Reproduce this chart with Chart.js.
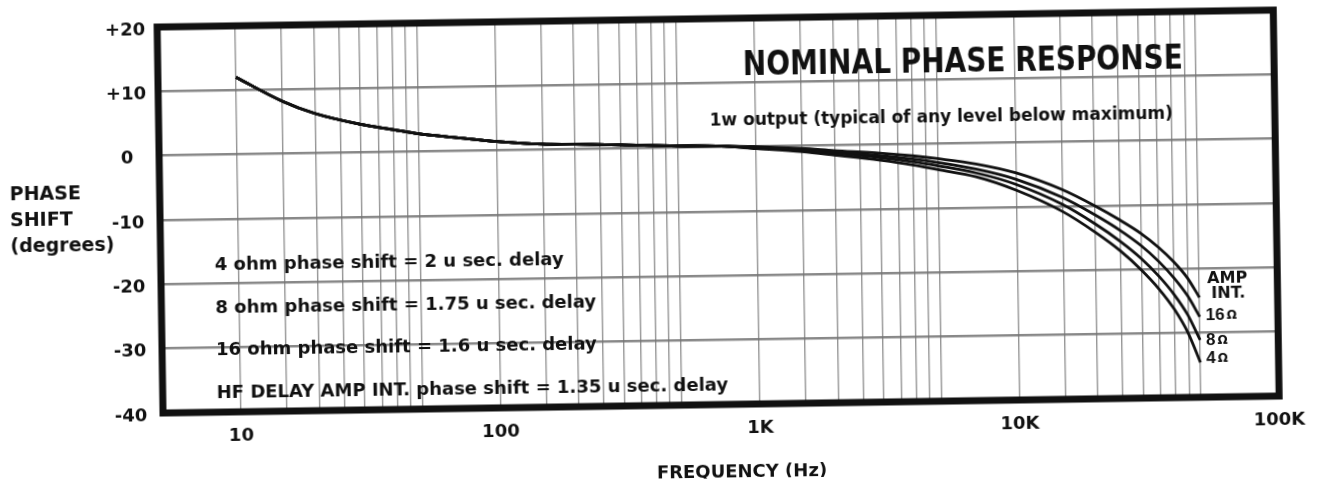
<!DOCTYPE html>
<html>
<head>
<meta charset="utf-8">
<script src="https://cdn.jsdelivr.net/npm/chart.js@4.4.1/dist/chart.umd.min.js"></script>
<style>
  html, body { margin: 0; padding: 0; background: #fff; overflow: hidden; }
  /* the scanned sheet is tilted a little, so the whole chart is too */
  #wrap { position: absolute; left: 0; top: 0; width: 1319px; height: 487px;
          transform: rotate(-0.87deg); transform-origin: 163px 413px; }
</style>
</head>
<body>
<div id="wrap"><canvas id="chartPhase" width="1319" height="487"></canvas></div>
<script>
const freqs = [10, 15, 20, 30, 40, 50, 70, 100, 150, 200, 300, 500, 700,
               1000, 1500, 2000, 3000, 4000, 5000, 7000, 10000, 15000, 20000,
               25000, 30000, 35000, 40000, 45000, 50000];

// Low end is the same for every load (10 Hz .. 700 Hz), degrees
const lowEnd = [12.0, 8.2, 6.2, 4.4, 3.5, 2.8, 2.1, 1.4, 0.9, 0.8, 0.6, 0.3, 0.2];

// High end (1 kHz .. 50 kHz), degrees
const ampIntHigh = [0.0, -0.4, -0.8, -1.3, -1.8, -2.3, -3.2, -4.7, -7.4, -10.0, -12.3, -14.4, -16.6, -18.9, -21.4, -24.5];
const ohm16High  = [-0.1, -0.6, -1.0, -1.7, -2.3, -2.9, -4.0, -5.7, -8.6, -11.4, -13.9, -16.3, -18.8, -21.4, -24.2, -27.5];
const ohm8High   = [-0.2, -0.7, -1.2, -2.0, -2.7, -3.4, -4.6, -6.5, -9.7, -12.8, -15.6, -18.3, -21.1, -24.0, -27.2, -31.1];
const ohm4High   = [-0.3, -0.9, -1.5, -2.4, -3.2, -4.0, -5.2, -7.4, -10.8, -14.1, -17.1, -20.1, -23.1, -26.3, -30.0, -34.6];

const seriesNames = ['AMP INT.', '16 ohm', '8 ohm', '4 ohm'];
const seriesHigh = [ampIntHigh, ohm16High, ohm8High, ohm4High];

// Axis ticks
const decadeTicks = [10, 100, 1000, 10000, 100000];
const decadeLabels = ['10', '100', '1K', '10K', '100K'];
const gridSteps = [1, 1.5, 2, 2.5, 3, 3.5, 4, 4.5, 5];   // ruled lines in each decade
const yTicks = [20, 10, 0, -10, -20, -30, -40];

// Texts on the sheet
const titleText = 'NOMINAL PHASE RESPONSE';
const subtitleText = '1w output (typical of any level below maximum)';
const delayNotes = [
    '4 ohm phase shift = 2 u sec. delay',
    '8 ohm phase shift = 1.75 u sec. delay',
    '16 ohm phase shift = 1.6 u sec. delay',
    'HF DELAY AMP INT. phase shift = 1.35 u sec. delay'
];
const yTitleLines = ['PHASE', 'SHIFT', '(degrees)'];
const xTitleText = 'FREQUENCY (Hz)';

const gridFreqs = decadeTicks.slice(0, 4)
    .flatMap(d => gridSteps.map(s => s * d))
    .concat([100000]);

const ink = '#111';
const dvBold = (px) => 'bold ' + px + 'px "DejaVu Sans", sans-serif';

// Frame + all the printed texts
const sheetPlugin = {
    id: 'sheet',
    afterDraw(chart) {
        const ctx = chart.ctx;
        const ca = chart.chartArea;
        const xs = chart.scales.x;
        const ys = chart.scales.y;
        ctx.save();

        // heavy frame
        ctx.strokeStyle = ink;
        ctx.lineWidth = 7;
        ctx.strokeRect(ca.left, ca.top, ca.right - ca.left, ca.bottom - ca.top);

        ctx.fillStyle = ink;
        ctx.textBaseline = 'alphabetic';
        ctx.textAlign = 'left';

        // title + subtitle
        ctx.font = dvBold(34);
        ctx.fillText(titleText, 748, 84, 440);
        ctx.font = dvBold(17);
        ctx.fillText(subtitleText, 714, 134, 472);

        // delay notes
        ctx.font = dvBold(18);
        delayNotes.forEach((txt, i) => {
            ctx.fillText(txt, 217, 271 + i * 42.5);
        });

        // y title
        ctx.font = dvBold(19);
        yTitleLines.forEach((txt, i) => {
            ctx.fillText(txt, 13, 198 + i * 26);
        });

        // x title
        ctx.textAlign = 'center';
        ctx.font = dvBold(18);
        ctx.fillText(xTitleText, 741, 486);

        // tags at the curve ends
        ctx.textAlign = 'left';
        const endX = xs.getPixelForValue(freqs[freqs.length - 1]);
        const endY = seriesHigh.map(a => ys.getPixelForValue(a[a.length - 1]));
        ctx.font = dvBold(16);
        ctx.fillText('AMP', endX + 8, endY[0] - 14);
        ctx.fillText('INT.', endX + 12, endY[0] + 1);
        const ohmTags = ['16', '8', '4'];
        const ohmDy = [3.5, 5.5, 1];
        ohmTags.forEach((n, i) => {
            const x = endX + 6;
            const y = endY[i + 1] + ohmDy[i];
            ctx.font = 'bold 17px "Liberation Sans", sans-serif';
            ctx.fillText(n, x, y);
            const w = ctx.measureText(n).width;
            ctx.font = 'bold 12px "DejaVu Sans", sans-serif';
            ctx.fillText('\u03A9', x + w + 2, y - 1);
        });

        ctx.restore();
    }
};

const ctx = document.getElementById('chartPhase').getContext('2d');
new Chart(ctx, {
    type: 'line',
    data: {
        datasets: seriesNames.map((name, k) => ({
            label: name,
            data: freqs.map((f, i) => ({ x: f, y: lowEnd.concat(seriesHigh[k])[i] })),
            borderColor: ink,
            borderWidth: 2.8,
            pointRadius: 0,
            fill: false,
            cubicInterpolationMode: 'monotone'
        }))
    },
    options: {
        responsive: false,
        animation: false,
        devicePixelRatio: 1,
        layout: {
            padding: { left: 110, right: 37, top: 27, bottom: 34 }
        },
        plugins: {
            legend: { display: false },
            tooltip: { enabled: false }
        },
        scales: {
            x: {
                type: 'logarithmic',
                min: 5,
                max: 100000,
                afterBuildTicks: (s) => { s.ticks = gridFreqs.map(v => ({ value: v })); },
                afterFit: (s) => { s.height = 40; },
                ticks: {
                    autoSkip: false,
                    maxRotation: 0,
                    padding: 14,
                    color: ink,
                    font: { family: 'DejaVu Sans', weight: 'bold', size: 18 },
                    callback: (v) => {
                        const i = decadeTicks.indexOf(v);
                        return i >= 0 ? decadeLabels[i] : '';
                    }
                },
                grid: { color: 'rgba(105,105,105,0.7)', lineWidth: 1.4, drawTicks: false },
                border: { display: false }
            },
            y: {
                min: yTicks[yTicks.length - 1],
                max: yTicks[0],
                afterFit: (s) => { s.width = 53; },
                ticks: {
                    stepSize: 10,
                    padding: 12,
                    crossAlign: 'center',
                    labelOffset: 3,
                    color: ink,
                    font: { family: 'DejaVu Sans', weight: 'bold', size: 18 },
                    callback: (v) => (v > 0 ? '+' + v : String(v))
                },
                grid: { color: 'rgba(115,115,115,0.85)', lineWidth: 2.5, drawTicks: false },
                border: { display: false }
            }
        }
    },
    plugins: [sheetPlugin]
});
</script>
</body>
</html>
